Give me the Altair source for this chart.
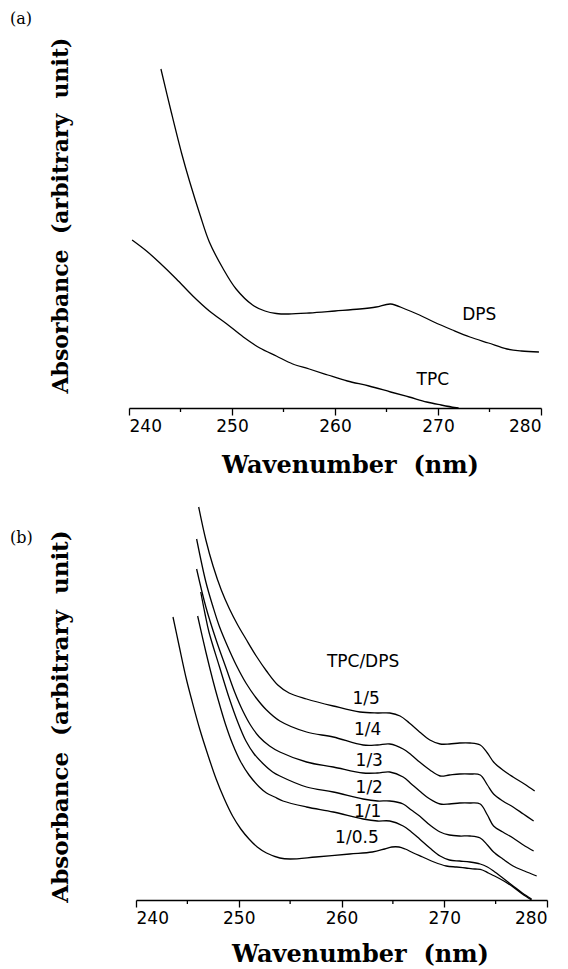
import altair as alt
import pandas as pd

# ---------------- Panel (a) data ----------------
dps_nm = [243.1, 244.1, 245.1, 245.9, 246.9, 247.8, 249.1, 250.4, 252.0, 253.2, 254.3, 255.5, 257.5,
          260.0, 262.4, 264.0, 265.4, 266.8, 268.2, 269.6, 271.4, 273.1, 274.9, 276.7, 278.1, 279.8]
dps_abs = [3.39, 2.96, 2.55, 2.26, 1.93, 1.66, 1.40, 1.19, 1.03, 0.97, 0.945, 0.94, 0.95,
           0.97, 0.99, 1.01, 1.04, 0.99, 0.93, 0.86, 0.78, 0.71, 0.65, 0.59, 0.57, 0.56]
tpc_nm = [240.3, 241.7, 243.0, 244.6, 246.2, 247.8, 249.5, 251.1, 252.7, 254.3, 255.9, 257.5,
          259.3, 261.2, 263.3, 265.4, 267.2, 268.9, 270.3, 271.6, 272.0]
tpc_abs = [1.68, 1.57, 1.45, 1.29, 1.12, 0.97, 0.84, 0.71, 0.60, 0.52, 0.44, 0.39,
           0.33, 0.27, 0.22, 0.16, 0.11, 0.06, 0.03, 0.005, 0.0]
a_label_text = ["DPS", "TPC"]
a_label_nm = [274.0, 269.5]
a_label_abs = [0.93, 0.28]

# ---------------- Panel (b) data ----------------
b_series = ["1/5", "1/4", "1/3", "1/2", "1/1", "1/0.5"]
b_nm = {
    "1/5": [246.1, 246.8, 247.5, 248.3, 249.1, 249.9, 250.7, 251.7, 252.7, 253.8, 254.9, 256.6, 259.2,
            261.8, 263.5, 264.7, 265.7, 266.6, 267.6, 268.6, 269.6, 270.5, 271.5, 272.5, 273.5, 274.2,
            274.8, 275.7, 276.7, 277.8, 278.8],
    "1/4": [245.9, 246.8, 247.5, 248.1, 248.9, 249.75, 250.7, 251.7, 252.7, 254.0, 256.6, 259.2, 262.1,
            263.5, 264.7, 266.0, 266.8, 267.6, 268.6, 269.6, 270.5, 271.5, 272.5, 273.5, 274.2, 274.8,
            275.7, 276.7, 277.7, 278.7],
    "1/3": [245.9, 246.8, 247.8, 248.8, 249.6, 250.4, 251.2, 252.0, 253.0, 254.0, 256.6, 259.2, 262.1,
            263.5, 264.7, 266.0, 266.8, 267.6, 268.6, 269.6, 270.5, 271.5, 272.5, 273.5, 274.2, 274.8,
            275.7, 276.7, 277.7, 278.7],
    "1/2": [246.3, 246.7, 247.1, 248.1, 249.1, 249.9, 250.7, 251.5, 252.4, 253.3, 254.0, 256.6, 259.2,
            262.1, 263.5, 264.7, 266.0, 266.8, 267.6, 268.6, 269.6, 270.5, 271.5, 272.5, 273.5, 274.2,
            274.8, 275.7, 276.7, 277.8, 279.0],
    "1/1": [246.0, 246.8, 247.5, 247.95, 248.7, 249.4, 250.2, 251.0, 252.0, 252.7, 253.5, 254.3, 256.6,
            259.2, 262.1, 263.5, 264.7, 266.0, 266.8, 267.6, 268.6, 269.6, 270.5, 271.5, 272.5, 273.5,
            274.2, 274.8, 275.7, 276.7, 277.6, 278.5],
    "1/0.5": [243.6, 244.2, 244.9, 245.4, 246.2, 247.0, 247.8, 248.6, 249.4, 250.2, 251.0, 251.8, 252.7,
              254.0, 255.0, 257.5, 260.8, 263.0, 264.2, 264.9, 265.6, 266.2, 267.0, 267.9, 269.0, 270.2,
              271.2, 272.1, 273.0, 273.7, 274.3, 274.9, 275.8, 276.7, 277.6, 278.5],
}
b_abs = {
    "1/5": [3.93, 3.60, 3.34, 3.10, 2.91, 2.75, 2.61, 2.44, 2.29, 2.15, 2.07, 2.01, 1.94,
            1.88, 1.87, 1.87, 1.84, 1.77, 1.68, 1.60, 1.56, 1.56, 1.57, 1.57, 1.55, 1.47,
            1.38, 1.30, 1.23, 1.16, 1.09],
    "1/4": [3.61, 3.18, 2.93, 2.74, 2.54, 2.35, 2.17, 2.02, 1.90, 1.79, 1.68, 1.63, 1.55,
            1.55, 1.56, 1.51, 1.45, 1.38, 1.30, 1.24, 1.25, 1.26, 1.26, 1.25, 1.15, 1.06,
            0.99, 0.93, 0.86, 0.79],
    "1/3": [3.31, 2.93, 2.60, 2.31, 2.08, 1.89, 1.74, 1.63, 1.54, 1.48, 1.38, 1.33, 1.27,
            1.27, 1.28, 1.23, 1.16, 1.09, 1.01, 0.96, 0.96, 0.97, 0.97, 0.96, 0.85, 0.74,
            0.68, 0.62, 0.55, 0.49],
    "1/2": [3.08, 2.87, 2.68, 2.34, 2.01, 1.78, 1.59, 1.46, 1.36, 1.28, 1.24, 1.13, 1.08,
            1.01, 0.99, 0.99, 0.96, 0.90, 0.84, 0.75, 0.68, 0.65, 0.64, 0.64, 0.62, 0.55,
            0.48, 0.41, 0.34, 0.29, 0.24],
    "1/1": [2.84, 2.48, 2.19, 2.02, 1.76, 1.56, 1.38, 1.25, 1.13, 1.07, 1.03, 0.99, 0.93,
            0.88, 0.81, 0.79, 0.79, 0.74, 0.68, 0.61, 0.52, 0.44, 0.40, 0.39, 0.38, 0.36,
            0.33, 0.29, 0.22, 0.14, 0.07, 0.01],
    "1/0.5": [2.83, 2.54, 2.21, 2.01, 1.71, 1.45, 1.21, 1.01, 0.84, 0.71, 0.61, 0.53, 0.47,
              0.42, 0.41, 0.43, 0.46, 0.48, 0.51, 0.53, 0.53, 0.51, 0.47, 0.43, 0.38, 0.34,
              0.33, 0.32, 0.31, 0.30, 0.27, 0.24, 0.19, 0.13, 0.06, 0.0],
}
b_label_text = ["TPC/DPS", "1/5", "1/4", "1/3", "1/2", "1/1", "1/0.5"]
b_label_nm = [262.1, 262.4, 262.55, 262.7, 262.7, 262.55, 261.5]
b_label_abs = [2.38, 2.01, 1.70, 1.39, 1.12, 0.88, 0.62]

tick_values = [240, 250, 260, 270, 280]
minor_ticks = [245, 255, 265, 275]

# ---------------- Build tables ----------------
a_df = pd.concat([
    pd.DataFrame({"nm": dps_nm, "abs": dps_abs, "series": "DPS"}),
    pd.DataFrame({"nm": tpc_nm, "abs": tpc_abs, "series": "TPC"}),
])
a_lab = pd.DataFrame({"nm": a_label_nm, "abs": a_label_abs, "text": a_label_text})
b_df = pd.concat([pd.DataFrame({"nm": b_nm[s], "abs": b_abs[s], "series": s}) for s in b_series])
b_lab = pd.DataFrame({"nm": b_label_nm, "abs": b_label_abs, "text": b_label_text})
minor_df = pd.DataFrame({"nm": minor_ticks})

TITLE_FONT = "DejaVu Serif"
LABEL_FONT = "DejaVu Sans"
SP = "\u00a0\u00a0"


def panel(df, lab, tag, width, height, ymax, xrange, xtitle_x, xtitle_y, ytitle_y, ytitle_size,
          tag_dy, tag_offset):
    xscale = alt.Scale(domain=[240, 280], nice=False, range=xrange)
    yscale = alt.Scale(domain=[0, ymax], nice=False)
    xaxis = alt.Axis(values=tick_values, format="d", title="Wavenumber" + SP + "(nm)",
                     titleX=xtitle_x, titleY=xtitle_y, titleBaseline="alphabetic",
                     titleFontSize=24)
    yaxis = alt.Axis(title="Absorbance" + SP + "(arbitrary" + SP + "unit)", domain=False, ticks=False,
                     labels=False, grid=False, titleX=-69, titleY=ytitle_y, titleAngle=270,
                     titleBaseline="middle", titleAlign="center", titleFontSize=ytitle_size)
    lines = alt.Chart(df).mark_line(color="black", strokeWidth=1.3, interpolate="catmull-rom").encode(
        x=alt.X("nm:Q", scale=xscale, axis=xaxis),
        y=alt.Y("abs:Q", scale=yscale, axis=yaxis),
        detail="series:N",
    )
    texts = alt.Chart(lab).mark_text(font=LABEL_FONT, fontSize=17, color="black",
                                     align="center", baseline="middle").encode(
        x=alt.X("nm:Q", scale=xscale),
        y=alt.Y("abs:Q", scale=yscale),
        text="text:N",
    )
    minors = alt.Chart(minor_df).mark_rule(color="black", strokeWidth=1.3).encode(
        x=alt.X("nm:Q", scale=xscale),
        y=alt.value(height),
        y2=alt.value(height + 4),
    )
    return alt.layer(lines, texts, minors).properties(
        width=width, height=height,
        title=alt.TitleParams(text=tag, anchor="start", frame="group", dx=-119, dy=tag_dy,
                              font="DejaVu Serif", fontSize=16, fontWeight="normal",
                              offset=tag_offset),
    )


pa = panel(a_df, a_lab, "(a)", 412, 360, 3.6, [0, 412], 221, 64, 167, 22, 0, 10)
pb = panel(b_df, b_lab, "(b)", 418, 410, 4.1, [7, 418], 231, 61, 226, 23, 75, 19)

chart = alt.vconcat(pa, pb, spacing=13).properties(
    padding={"left": 2, "top": 2, "right": 2, "bottom": 2}
).configure_view(stroke=None).configure_axis(
    domainColor="black", domainWidth=1.3, tickColor="black", tickWidth=1.3, tickSize=7,
    labelFont=LABEL_FONT, labelFontSize=17, labelColor="black", labelPadding=3, grid=False,
    titleFont=TITLE_FONT, titleFontWeight="bold", titleColor="black",
)

chart.save("out.html", embed_options={"renderer": "svg", "actions": False})
